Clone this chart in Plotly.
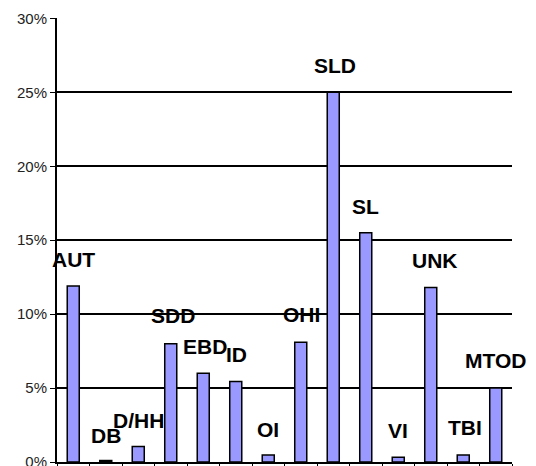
import plotly.graph_objects as go

categories = ["AUT", "DB", "D/HH", "SDD", "EBD", "ID", "OI", "OHI", "SLD", "SL", "VI", "UNK", "TBI", "MTOD"]
values = [11.9, 0.1, 1.05, 8.0, 6.0, 5.45, 0.47, 8.1, 25.0, 15.5, 0.32, 11.8, 0.47, 5.0]
tick_vals = [0, 5, 10, 15, 20, 25, 30]
tick_text = ["0%", "5%", "10%", "15%", "20%", "25%", "30%"]

# label placement (category offset, height in %)
label_dx = [0.0, 0.0, 0.01, 0.08, 0.06, 0.03, 0.0, 0.03, 0.05, -0.02, 0.0, 0.12, 0.04, 0.0]
label_y = [13.7, 1.8, 2.84, 9.9, 7.8, 7.3, 2.23, 9.97, 26.8, 17.3, 2.1, 13.6, 2.3, 6.84]

xs = list(range(len(categories)))

fig = go.Figure()
fig.add_trace(go.Bar(
    x=xs, y=values, width=0.37,
    marker=dict(color="#9999FF", line=dict(color="black", width=1.5)),
    hoverinfo="skip",
))

annotations = []
for i, (c, dx, ly) in enumerate(zip(categories, label_dx, label_y)):
    annotations.append(dict(
        x=i + dx, y=ly, xref="x", yref="y", text="<b>%s</b>" % c,
        showarrow=False, xanchor="center", yanchor="middle",
        font=dict(family="Liberation Sans, Arial", size=21, color="black"),
    ))

fig.update_layout(
    width=528, height=458,
    margin=dict(l=49, r=24, t=10, b=4, autoexpand=False),
    plot_bgcolor="white", paper_bgcolor="white",
    showlegend=False,
    annotations=annotations,
    xaxis=dict(
        range=[-0.5, len(categories) - 0.5],
        tickmode="linear", tick0=-0.5, dtick=1,
        ticks="outside", ticklen=5, tickcolor="black", tickwidth=1,
        showticklabels=False, showgrid=False, zeroline=False,
        showline=True, linecolor="black", linewidth=1.5,
        automargin=False,
    ),
    yaxis=dict(
        range=[0, 30.03],
        tickmode="array", tickvals=tick_vals, ticktext=tick_text,
        ticks="outside", ticklen=5, tickcolor="black", tickwidth=1,
        tickfont=dict(family="Liberation Sans, Arial", size=15, color="#222"),
        ticklabeloverflow="allow",
        showgrid=True, gridcolor="black", gridwidth=1.5,
        zeroline=False,
        showline=True, linecolor="black", linewidth=2,
        automargin=False,
    ),
)

fig.write_html("out.html")
